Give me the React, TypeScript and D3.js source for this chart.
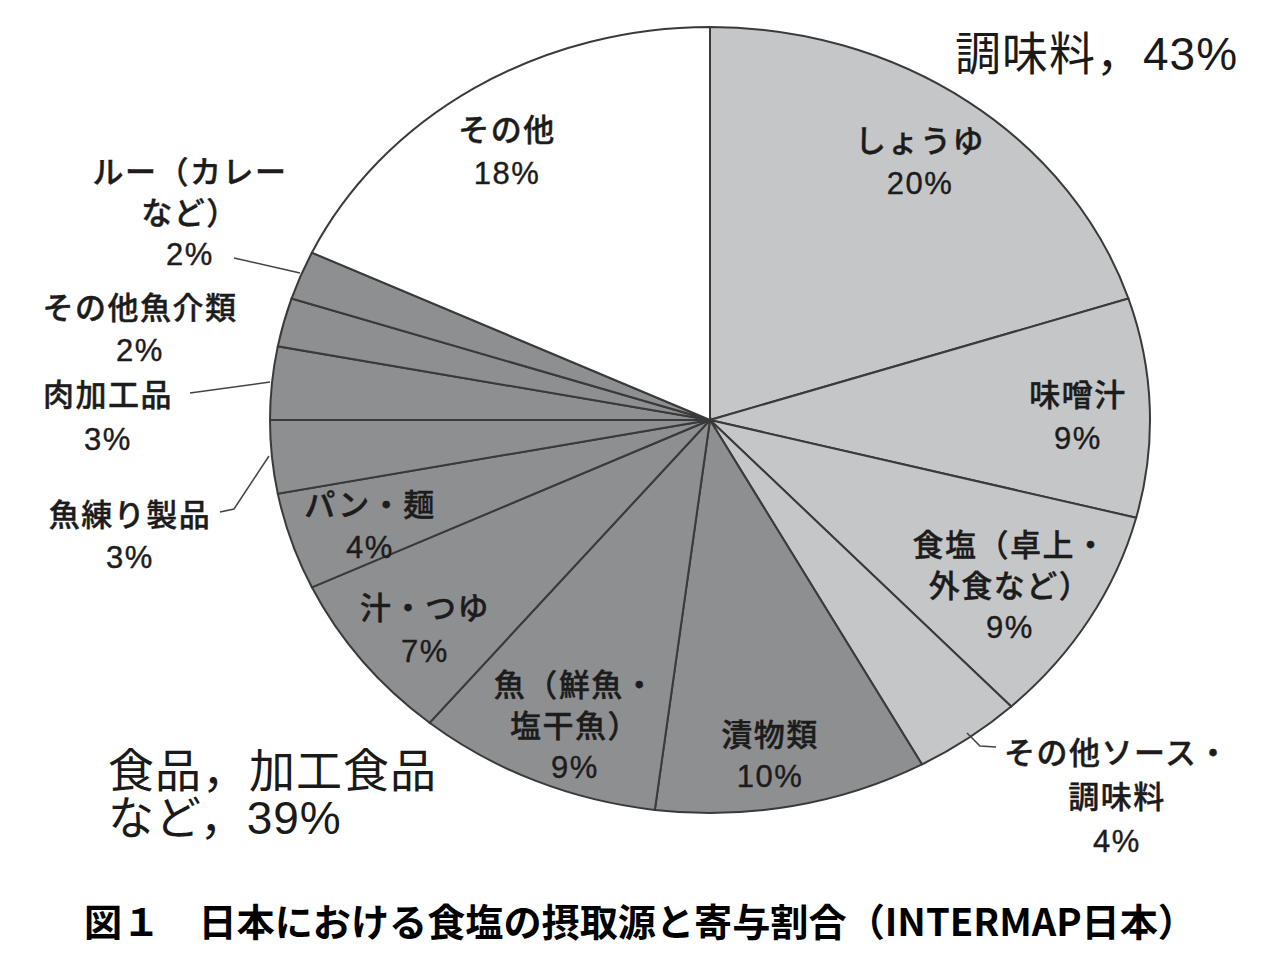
import React from "react";
import * as d3 from "d3";

const categories = [
  "しょうゆ", "味噌汁", "食塩（卓上・外食など）", "その他ソース・調味料",
  "漬物類", "魚（鮮魚・塩干魚）", "汁・つゆ", "パン・麺", "魚練り製品",
  "肉加工品", "その他魚介類", "ルー（カレーなど）", "その他",
];
const values = [20, 9, 9, 4, 10, 9, 7, 4, 3, 3, 2, 2, 18];
const groups = ["seasoning", "seasoning", "seasoning", "seasoning",
  "food", "food", "food", "food", "food", "food", "food", "food", "other"];
const labelLines = [
  ["しょうゆ", "20%"],
  ["味噌汁", "9%"],
  ["食塩（卓上・", "外食など）", "9%"],
  ["その他ソース・", "調味料", "4%"],
  ["漬物類", "10%"],
  ["魚（鮮魚・", "塩干魚）", "9%"],
  ["汁・つゆ", "7%"],
  ["パン・麺", "4%"],
  ["魚練り製品", "3%"],
  ["肉加工品", "3%"],
  ["その他魚介類", "2%"],
  ["ルー（カレー", "など）", "2%"],
  ["その他", "18%"],
];
const groupTitles = [
  { lines: ["調味料，43%"] },
  { lines: ["食品，加工食品", "など，39%"] },
];
const title = "図１　日本における食塩の摂取源と寄与割合（INTERMAP日本）";

// layout (not data)
const CX = 710, CY = 420, RX = 440, RY = 393;
const labelPos: [number, number, number][] = [
  [920, 144, 42], [1078, 398, 43], [1010, 548, 41], [1117, 756, 44],
  [770, 738, 41], [575, 688, 41], [425, 611, 43], [370, 508, 42],
  [130, 518, 42], [108, 398, 44], [140, 311, 42], [190, 175, 41], [507, 133, 43],
];
const leaders: [number, number][][] = [
  [], [], [], [[967, 733], [980, 746], [996, 747]], [], [], [], [], 
  [[220, 512], [234, 509], [269, 456]], [[190, 393], [270, 382]], [],
  [[234, 258], [300, 273]], [],
];
const colors: Record<string, string> = {
  seasoning: "#c5c6c8",
  food: "#8e8f91",
  other: "#ffffff",
};

export default function App() {
  const pie = d3.pie<number>().sort(null).value((d) => d);
  const arcs = pie(values);
  const arc = d3.arc<d3.PieArcDatum<number>>().innerRadius(0).outerRadius(1000);
  const font = "'Liberation Sans', Arial, 'Noto Sans CJK JP', sans-serif";
  const line = d3.line().curve(d3.curveLinear);
  return (
    <svg width={1280} height={960} style={{ position: "absolute", left: 0, top: 0, background: "#fff" }}>
      <rect width={1280} height={960} fill="#fff" />
      <g transform={`translate(${CX},${CY}) scale(${RX / 1000},${RY / 1000})`}>
        {arcs.map((a, i) => (
          <path key={i} d={arc(a) || ""} fill={colors[groups[i]]} stroke="#3a3a3a"
            strokeWidth={2} vectorEffect="non-scaling-stroke" />
        ))}
      </g>
      {leaders.map((pts, i) =>
        pts.length ? (
          <path key={"l" + i} d={line(pts as [number, number][]) || ""} fill="none"
            stroke="#444" strokeWidth={1.5} />
        ) : null
      )}
      {labelLines.map((ls, i) => {
        const [x, y, dy] = labelPos[i];
        return (
          <text key={"t" + i} x={x} textAnchor="middle" fontFamily={font}
            fontSize={31} fill="#1c1c1c" stroke="#1c1c1c" strokeWidth={0.4}
            style={{ letterSpacing: 1.5 }} fontWeight={500}>
            {ls.map((s, j) => (
              <tspan key={j} x={x} y={y + j * dy} dominantBaseline="middle">{s}</tspan>
            ))}
          </text>
        );
      })}
      <text x={955} y={58} fontFamily={font} fontSize={46} fill="#1a1a1a" dominantBaseline="middle"
        style={{ letterSpacing: 1 }}>
        {groupTitles[0].lines[0]}
      </text>
      <text fontFamily={font} fontSize={46} fill="#1a1a1a" style={{ letterSpacing: 1 }}>
        {groupTitles[1].lines.map((s, j) => (
          <tspan key={j} x={108} y={775 + j * 47} dominantBaseline="middle">{s}</tspan>
        ))}
      </text>
      <text x={84} y={926} fontFamily="'Noto Sans CJK JP', sans-serif" fontSize={38}
        fontWeight={700} fill="#000" dominantBaseline="middle" textLength={1112}
        lengthAdjust="spacingAndGlyphs">
        {title}
      </text>
    </svg>
  );
}
